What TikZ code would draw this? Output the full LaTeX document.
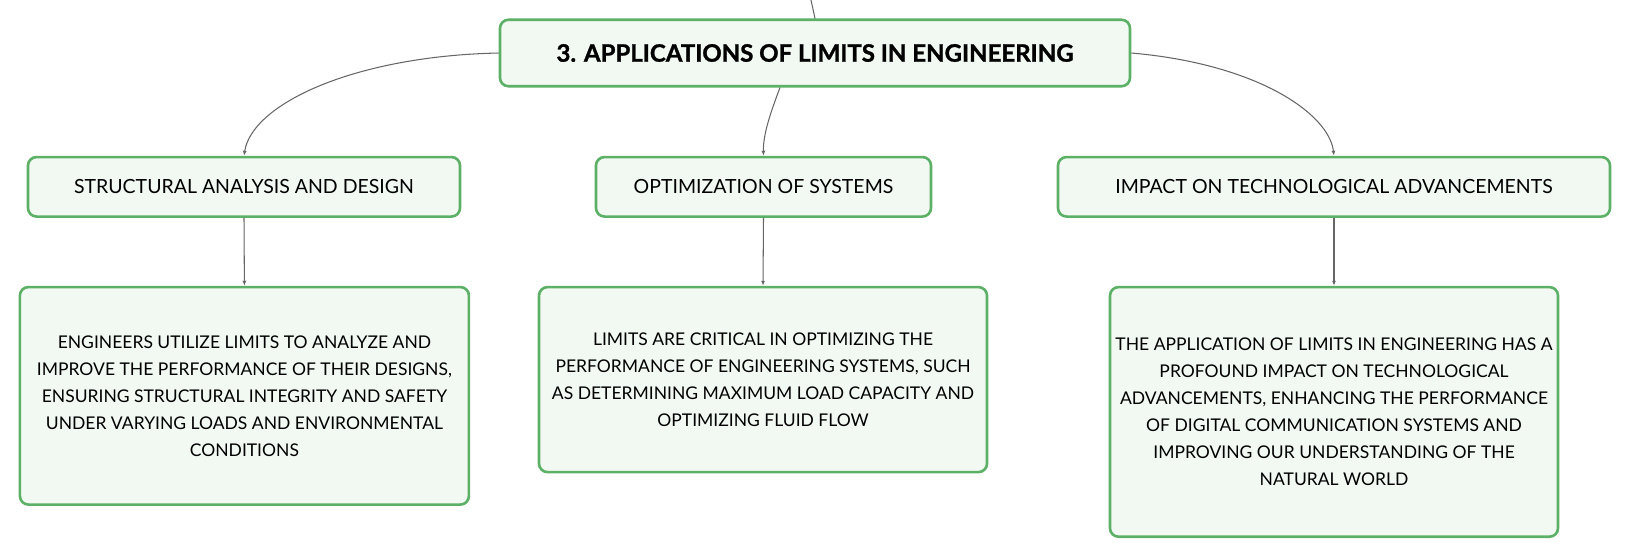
\documentclass[tikz,border=0pt]{standalone}
\usepackage{fontspec}
\setmainfont{Lato}
\usetikzlibrary{arrows.meta}
\definecolor{boxborder}{HTML}{5DB166}
\definecolor{boxfill}{HTML}{F1F9F2}
\definecolor{linkgray}{HTML}{666666}
\tikzset{
  box/.style={draw=boxborder, fill=boxfill, line width=2.6pt, rounded corners=8.5pt,
    inner sep=0pt, align=center, text=black},
  titlebox/.style={box, font=\fontsize{24}{28}\selectfont\bfseries\addfontfeatures{FakeBold=1.2}},
  childbox/.style={box, font=\fontsize{19.5}{27}\selectfont},
  leafbox/.style={box, font=\fontsize{17.5}{27}\selectfont},
  link/.style={draw=linkgray, line width=1.05pt, -{Latex[length=5pt,width=4pt]}},
}
\begin{document}
\begin{tikzpicture}[x=1pt,y=-1pt]
\useasboundingbox (0,0) rectangle (1631,558);
\node[titlebox, minimum width=630pt, minimum height=66.5pt] (top) at (815,53) {3. APPLICATIONS OF LIMITS IN ENGINEERING};
\coordinate (in) at (811,0);
\node[childbox, minimum width=432pt, minimum height=59.5pt] (c1) at (244,186.8) {STRUCTURAL ANALYSIS AND DESIGN};
\node[childbox, minimum width=335pt, minimum height=59.5pt] (c2) at (763.5,186.8) {OPTIMIZATION OF SYSTEMS};
\node[childbox, minimum width=552pt, minimum height=59.5pt] (c3) at (1334,186.8) {IMPACT ON TECHNOLOGICAL ADVANCEMENTS};
\node[leafbox, minimum width=449pt, minimum height=217.5pt] (l1) at (244.4,395.8) {ENGINEERS UTILIZE LIMITS TO ANALYZE AND\\IMPROVE THE PERFORMANCE OF THEIR DESIGNS,\\ENSURING STRUCTURAL INTEGRITY AND SAFETY\\UNDER VARYING LOADS AND ENVIRONMENTAL\\CONDITIONS};
\node[leafbox, minimum width=448pt, minimum height=185pt] (l2) at (763,379.6) {LIMITS ARE CRITICAL IN OPTIMIZING THE\\PERFORMANCE OF ENGINEERING SYSTEMS, SUCH\\AS DETERMINING MAXIMUM LOAD CAPACITY AND\\OPTIMIZING FLUID FLOW};
\node[leafbox, minimum width=448pt, minimum height=249.6pt] (l3) at (1334,411.9) {THE APPLICATION OF LIMITS IN ENGINEERING HAS A\\PROFOUND IMPACT ON TECHNOLOGICAL\\ADVANCEMENTS, ENHANCING THE PERFORMANCE\\OF DIGITAL COMMUNICATION SYSTEMS AND\\IMPROVING OUR UNDERSTANDING OF THE\\NATURAL WORLD};
\draw[draw=linkgray, line width=1.05pt] (in) -- (top.north);
\draw[link] (top.west) .. controls (354,56) and (252,104) .. (c1.north);
\draw[link] (top.south) ++(-35,0) .. controls (770,114) and (763,135) .. (c2.north);
\draw[link] (top.east) .. controls (1258,64) and (1329,114) .. (c3.north);
\draw[link] (c1.south) -- (l1.north);
\draw[link] (c2.south) -- (l2.north);
\draw[link] (c3.south) -- (l3.north);
\end{tikzpicture}
\end{document}
